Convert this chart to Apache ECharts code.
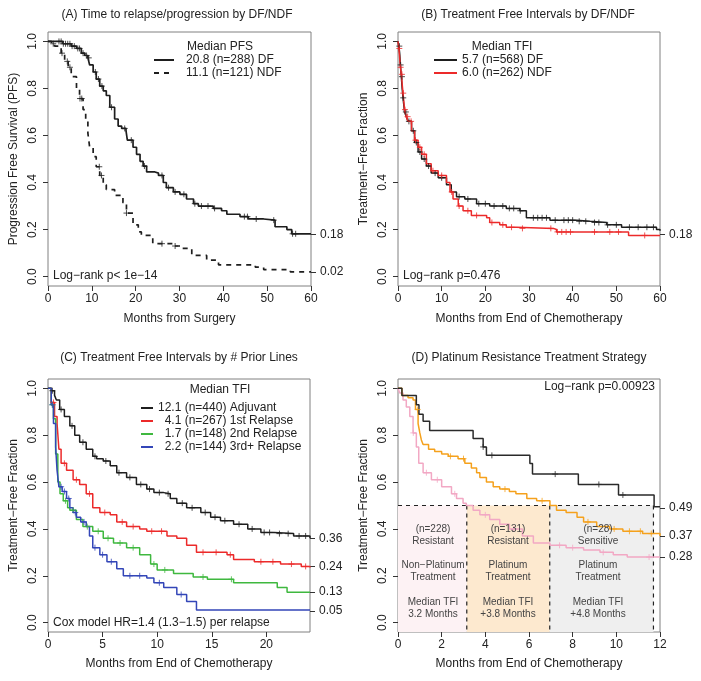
<!DOCTYPE html>
<html>
<head>
<meta charset="utf-8">
<script src="https://cdn.jsdelivr.net/npm/echarts@6/dist/echarts.min.js"></script>
<style>html,body{margin:0;padding:0;background:#fff}#c{width:701px;height:681px}</style>
</head>
<body>
<div id="c"></div>
<script>
// ---------- Panel A: PFS by DF/NDF ----------
const aDfTime = [0, 3.4, 5.3, 6.5, 7.6, 8.4, 9.1, 9.5, 10.3, 11, 11.8, 12.6, 13.3, 14.1, 15.2, 16, 16.8, 17.8, 18.1, 19.4, 20.2, 21, 21.7, 22.5, 24.4, 25.2, 26.3, 27, 28.6, 30.1, 31.6, 33.2, 34.3, 37.7, 39.6, 40.8, 43.8, 45.7, 49.2, 51.8, 54.5, 55.6, 60];
const aDfSurv = [1, 0.99, 0.98, 0.97, 0.95, 0.94, 0.93, 0.9, 0.87, 0.84, 0.81, 0.79, 0.77, 0.72, 0.67, 0.64, 0.63, 0.62, 0.58, 0.55, 0.52, 0.49, 0.47, 0.445, 0.44, 0.43, 0.4, 0.378, 0.36, 0.35, 0.33, 0.31, 0.3, 0.29, 0.28, 0.265, 0.255, 0.245, 0.24, 0.212, 0.2, 0.182, 0.182];
const aDfCens = [2.5, 3.0, 3.5, 4, 4.5, 5, 5.5, 6, 6.8, 7.2, 8, 8.8, 9.3, 10.8, 11.5, 12.3, 14.5, 17.5, 19, 22, 26, 27.5, 29, 31, 33.5, 35, 36.5, 38, 44.8, 45.5, 47.5, 51.5, 55.8, 56.5];
const aNdfTime = [0, 0.8, 1.5, 3.0, 3.8, 4.6, 5.3, 6.5, 7.2, 8, 8.6, 9.1, 9.5, 10.3, 11, 11.8, 12.6, 13.3, 15.2, 17.1, 17.9, 19.4, 20.6, 21.3, 23.9, 28.6, 30.5, 32.8, 36.2, 38.9, 47.3, 49.2, 55.3, 60];
const aNdfSurv = [1, 0.99, 0.98, 0.95, 0.915, 0.89, 0.85, 0.8, 0.757, 0.71, 0.66, 0.61, 0.55, 0.51, 0.467, 0.43, 0.39, 0.37, 0.345, 0.314, 0.27, 0.22, 0.19, 0.175, 0.14, 0.13, 0.12, 0.09, 0.07, 0.05, 0.04, 0.03, 0.02, 0.02];
const aNdfCens = [1.2, 3.2, 4.4, 5.0, 7.3, 7.7, 11.7, 12.2, 17.9, 26, 29];
const aNames = ['20.8 (n=288) DF', '11.1 (n=121) NDF'];
const aRightTicks = [0.18, 0.02];

// ---------- Panel B: TFI by DF/NDF ----------
const bDfTime = [0, 0.2, 0.38, 0.55, 0.76, 0.95, 1.15, 1.5, 1.9, 2.3, 3.1, 3.8, 4.6, 5.4, 6.5, 7.6, 9.2, 11.1, 12.2, 13.4, 15.3, 18, 21, 24.8, 27.9, 29.4, 34.8, 40.9, 44, 47.8, 51.2, 59.2, 60];
const bDfSurv = [1, 0.98, 0.95, 0.9, 0.85, 0.8, 0.76, 0.7, 0.68, 0.66, 0.62, 0.57, 0.53, 0.5, 0.47, 0.44, 0.42, 0.39, 0.36, 0.34, 0.33, 0.31, 0.3, 0.29, 0.28, 0.25, 0.24, 0.235, 0.23, 0.22, 0.21, 0.2, 0.195];
const bDfCens = [0.3, 0.6, 0.9, 1.2, 1.8, 2.5, 3.5, 4.2, 5, 6, 7, 8.5, 10, 14, 16, 18.5, 20, 22, 24, 25.5, 26.5, 28, 31, 32, 33, 34, 36, 38, 39, 40, 41.5, 43, 45, 46, 48, 50, 53, 55, 57, 58.5];
const bNdfTime = [0, 0.2, 0.38, 0.55, 0.76, 0.95, 1.15, 1.5, 1.9, 2.3, 3.1, 3.8, 4.6, 5.4, 6.5, 7.6, 9.2, 11.1, 11.9, 12.6, 13.8, 14.9, 16.8, 20.3, 21, 23.3, 24.8, 27.1, 35.6, 36.3, 47, 52.8, 60];
const bNdfSurv = [1, 0.97, 0.93, 0.89, 0.86, 0.82, 0.78, 0.71, 0.68, 0.66, 0.62, 0.58, 0.55, 0.52, 0.48, 0.45, 0.43, 0.4, 0.36, 0.33, 0.3, 0.28, 0.26, 0.25, 0.23, 0.22, 0.21, 0.205, 0.2, 0.19, 0.19, 0.175, 0.175];
const bNdfCens = [0.3, 0.6, 0.9, 1.2, 1.6, 2.2, 3, 4, 5, 6, 8, 10, 12.3, 14, 16, 18, 21.5, 24, 26, 28.5, 35, 36.5, 37.5, 38.5, 39.5, 45, 48.5, 50.5, 56.5];
const bNames = ['5.7 (n=568) DF', '6.0 (n=262) NDF'];
const bRightTicks = [0.18];

// ---------- Panel C: TFI by # prior lines ----------
const cAdjTime = [0, 0.3, 0.6, 0.77, 1.07, 1.5, 2.0, 2.45, 2.9, 3.5, 4.1, 4.45, 5.06, 5.7, 6.3, 7.2, 8.1, 9.05, 9.7, 10.6, 11.2, 11.8, 12.7, 14, 14.9, 15.8, 17, 18.3, 19.5, 20.7, 22.5, 24];
const cAdjSurv = [1, 0.99, 0.97, 0.95, 0.91, 0.88, 0.84, 0.8, 0.77, 0.74, 0.71, 0.7, 0.69, 0.67, 0.64, 0.62, 0.59, 0.57, 0.555, 0.55, 0.53, 0.51, 0.49, 0.47, 0.45, 0.435, 0.42, 0.4, 0.385, 0.38, 0.37, 0.36];
const cAdjCens = [0.4, 1.2, 2.2, 3.2, 4.3, 5.3, 6.5, 7.5, 8.5, 9.3, 10.2, 11, 12.3, 13.2, 14.4, 15.3, 16.2, 17.5, 18.7, 19.8, 20.3, 21.2, 22, 23, 23.6];
const c1stTime = [0, 0.3, 0.6, 0.83, 1.0, 1.2, 1.7, 2.3, 2.9, 3.5, 4.1, 4.75, 5.7, 6.3, 7.2, 8.4, 9.05, 10.9, 11.8, 12.7, 13.6, 16.4, 17, 18.9, 21.3, 23.2, 24];
const c1stSurv = [1, 0.94, 0.88, 0.85, 0.74, 0.68, 0.65, 0.61, 0.59, 0.55, 0.49, 0.47, 0.46, 0.43, 0.41, 0.4, 0.39, 0.37, 0.36, 0.33, 0.3, 0.29, 0.27, 0.26, 0.25, 0.24, 0.235];
const c1stCens = [0.5, 1.5, 2.6, 3.8, 5.2, 6.8, 7.8, 9.5, 10.4, 14.2, 15.4, 16.7, 19.5, 20.6, 22.3, 23.6];
const c2ndTime = [0, 0.3, 0.5, 0.7, 0.9, 1.1, 1.4, 1.8, 2.0, 2.6, 3.2, 4.1, 5.06, 6.0, 7.2, 8.4, 9.4, 10, 11.5, 13.3, 14.6, 17, 21, 21.9, 24];
const c2ndSurv = [1, 0.93, 0.87, 0.72, 0.6, 0.55, 0.52, 0.49, 0.48, 0.44, 0.41, 0.39, 0.36, 0.34, 0.32, 0.29, 0.25, 0.225, 0.21, 0.195, 0.185, 0.17, 0.15, 0.13, 0.13];
const c2ndCens = [0.4, 1.6, 2.3, 3.6, 4.6, 5.5, 6.6, 7.8, 9.7, 10.7, 14.2, 16.8];
const c3rdTime = [0, 0.3, 0.5, 0.7, 0.83, 1.0, 1.3, 1.7, 2.0, 2.3, 2.6, 3.0, 3.5, 3.8, 4.1, 4.75, 5.4, 6.3, 6.9, 9.05, 9.7, 10.6, 11.8, 12.7, 13.6, 24];
const c3rdSurv = [1, 0.93, 0.85, 0.75, 0.65, 0.58, 0.56, 0.53, 0.49, 0.47, 0.45, 0.43, 0.41, 0.37, 0.32, 0.29, 0.26, 0.23, 0.2, 0.19, 0.17, 0.15, 0.12, 0.09, 0.054, 0.054];
const c3rdCens = [0.4, 1.2, 1.5, 1.9, 2.5, 3.3, 4.3, 5.0, 5.8, 7.5, 8.4, 10.2, 12.2];
const cNames = ['12.1 (n=440) Adjuvant', '  4.1 (n=267) 1st Relapse', '  1.7 (n=148) 2nd Relapse', '  2.2 (n=144) 3rd+ Relapse'];
const cRightTicks = [0.36, 0.24, 0.13, 0.05];

// ---------- Panel D: platinum resistance treatment strategy ----------
const dSensTime = [0, 0.18, 0.84, 0.96, 1.15, 1.45, 3.44, 3.9, 4.05, 6.04, 6.16, 8.26, 10.1, 11.73, 12];
const dSensSurv = [1, 0.97, 0.93, 0.89, 0.86, 0.82, 0.786, 0.75, 0.714, 0.679, 0.634, 0.59, 0.545, 0.495, 0.495];
const dSensCens = [3.9, 4.3, 7.2, 9.2, 10.3];
const dPlatTime = [0, 0.18, 0.46, 0.69, 0.8, 0.92, 1.0, 1.07, 1.15, 1.4, 1.68, 2.0, 2.3, 2.75, 3.06, 3.36, 3.6, 3.75, 4.05, 4.36, 4.66, 5.1, 5.4, 5.9, 6.35, 6.96, 7.26, 7.7, 8.2, 8.5, 9.1, 9.7, 10.3, 11.2, 12];
const dPlatSurv = [1, 0.97, 0.96, 0.95, 0.91, 0.85, 0.81, 0.78, 0.76, 0.74, 0.73, 0.72, 0.71, 0.7, 0.68, 0.66, 0.64, 0.62, 0.6, 0.58, 0.57, 0.56, 0.55, 0.53, 0.52, 0.5, 0.48, 0.47, 0.45, 0.43, 0.41, 0.4, 0.39, 0.38, 0.37];
const dPlatCens = [0.9, 2.4, 3.0, 4.9, 6.6, 8.7, 9.9, 10.6, 11.1, 11.6];
const dResTime = [0, 0.08, 0.23, 0.38, 0.54, 0.69, 0.84, 0.95, 1.15, 1.53, 2.0, 2.45, 2.68, 2.98, 3.13, 3.44, 3.75, 4.2, 4.66, 5.1, 5.7, 6.2, 6.96, 7.7, 8.5, 9.25, 9.86, 10.5, 12];
const dResSurv = [1, 0.98, 0.95, 0.92, 0.88, 0.81, 0.75, 0.68, 0.64, 0.61, 0.58, 0.55, 0.53, 0.51, 0.5, 0.48, 0.46, 0.44, 0.42, 0.4, 0.37, 0.34, 0.33, 0.32, 0.31, 0.3, 0.29, 0.28, 0.28];
const dResCens = [0.7, 1.3, 1.8, 2.6, 4.0, 5.3, 7.4, 8.0, 9.4, 11.5];
const dBounds = [0, 3.15, 6.95, 11.7];
const dMedianLevel = 0.5;
const dRightTicks = [0.49, 0.37, 0.28];
const dGroupN = ['(n=228)', '(n=131)', '(n=28)'];
const dGroupType = ['Resistant', 'Resistant', 'Sensitive'];
const dGroupTreat = ['Non\u2212Platinum', 'Platinum', 'Platinum'];
const dGroupMedian = ['3.2 Months', '+3.8 Months', '+4.8 Months'];

// ---------- helpers ----------
const FONT = "'Liberation Sans', Arial, sans-serif";
const TXT = '#222';
const PLUS = 'path://M5,0V10M0,5H10';
function km(t, s) { return t.map((x, i) => [x, s[i]]); }
function survAt(t, s, x) { let v = s[0]; for (let i = 0; i < t.length; i++) { if (t[i] <= x) v = s[i]; } return v; }
function cens(t, s, c) { return c.map(x => [x, survAt(t, s, x)]); }

const grids = [
  {left: 48, top: 32, width: 263, height: 254},
  {left: 398, top: 32, width: 262, height: 254},
  {left: 48, top: 379, width: 262, height: 253},
  {left: 398, top: 379, width: 262, height: 253}
].map(g => Object.assign(g, {show: true, borderColor: '#808080', borderWidth: 1, backgroundColor: 'transparent'}));

const yTicks = [0, 0.2, 0.4, 0.6, 0.8, 1.0];
function xAx(gi, max, ticks, name, gap) {
  return {gridIndex: gi, type: 'value', min: 0, max: max, position: 'bottom',
    axisLine: {show: false, onZero: false}, splitLine: {show: false},
    axisTick: {show: true, length: 5, customValues: ticks, lineStyle: {color: '#333'}},
    axisLabel: {customValues: ticks, margin: 7, fontSize: 12, fontFamily: FONT, color: TXT},
    name: name, nameLocation: 'middle', nameGap: gap, nameTextStyle: {fontSize: 12, fontFamily: FONT, color: TXT}};
}
function yAx(gi, name) {
  return {gridIndex: gi, type: 'value', min: -0.04, max: 1.04, position: 'left',
    axisLine: {show: false, onZero: false}, splitLine: {show: false},
    axisTick: {show: true, length: 5, customValues: yTicks, lineStyle: {color: '#333'}},
    axisLabel: {customValues: yTicks, rotate: 90, margin: 9, fontSize: 12, fontFamily: FONT, color: TXT, formatter: v => v.toFixed(1)},
    name: name, nameLocation: 'middle', nameGap: 28, nameTextStyle: {fontSize: 12, fontFamily: FONT, color: TXT}};
}
function yRight(gi, ticks) {
  return {gridIndex: gi, type: 'value', min: -0.04, max: 1.04, position: 'right',
    axisLine: {show: false, onZero: false}, splitLine: {show: false},
    axisTick: {show: true, length: 5, customValues: ticks, lineStyle: {color: '#333'}},
    axisLabel: {customValues: ticks, margin: 9, fontSize: 12, fontFamily: FONT, color: TXT, formatter: v => v.toFixed(2)}};
}

const series = [];
function curve(name, xi, yi, t, s, c, color, width, dash) {
  series.push({name: name, type: 'line', xAxisIndex: xi, yAxisIndex: yi, step: 'end', symbol: 'none',
    data: km(t, s), lineStyle: {color: color, width: width, type: dash || 'solid'}, itemStyle: {color: color}, z: 3, silent: true});
  series.push({name: name + '_c', type: 'scatter', xAxisIndex: xi, yAxisIndex: yi, symbol: PLUS, symbolSize: 6,
    data: cens(t, s, c), itemStyle: {color: 'rgba(0,0,0,0)', borderColor: color, borderWidth: 1}, z: 4, silent: true});
}
const RED = '#ec2a2a', GREEN = '#3fb83f', BLUE = '#3346b8', BLACK = '#1e1e1e';
curve(aNames[0], 0, 0, aDfTime, aDfSurv, aDfCens, BLACK, 1.7);
curve(aNames[1], 0, 0, aNdfTime, aNdfSurv, aNdfCens, BLACK, 1.7, [5, 5]);
curve(bNames[0], 1, 2, bDfTime, bDfSurv, bDfCens, BLACK, 1.5);
curve(bNames[1], 1, 2, bNdfTime, bNdfSurv, bNdfCens, RED, 1.5);
curve(cNames[0], 2, 4, cAdjTime, cAdjSurv, cAdjCens, BLACK, 1.5);
curve(cNames[1], 2, 4, c1stTime, c1stSurv, c1stCens, RED, 1.5);
curve(cNames[2], 2, 4, c2ndTime, c2ndSurv, c2ndCens, GREEN, 1.5);
curve(cNames[3], 2, 4, c3rdTime, c3rdSurv, c3rdCens, BLUE, 1.5);

// panel D regions + dashed lines
const fills = ['#fdf2f4', '#fde9cf', '#efefef'];
const areas = [];
for (let i = 0; i < 3; i++) {
  areas.push([{xAxis: dBounds[i], yAxis: -0.04, itemStyle: {color: fills[i]}}, {xAxis: dBounds[i + 1], yAxis: dMedianLevel}]);
}
series.push({name: 'medianLine', type: 'line', xAxisIndex: 3, yAxisIndex: 6, symbol: 'none', silent: true,
  data: [[dBounds[0], dMedianLevel], [dBounds[3], dMedianLevel]], lineStyle: {color: '#222', width: 1.2, type: [4, 4]}, z: 2,
  markArea: {silent: true, data: areas, z: 0}});
for (let i = 1; i < 4; i++) {
  series.push({name: 'vline' + i, type: 'line', xAxisIndex: 3, yAxisIndex: 6, symbol: 'none', silent: true,
    data: [[dBounds[i], dMedianLevel], [dBounds[i], -0.04]], lineStyle: {color: '#222', width: 1.2, type: [4, 4]}, z: 2});
}
curve('Resistant non-platinum', 3, 6, dResTime, dResSurv, dResCens, '#f2a8c4', 1.5);
curve('Resistant platinum', 3, 6, dPlatTime, dPlatSurv, dPlatCens, '#f5a11c', 1.5);
curve('Sensitive platinum', 3, 6, dSensTime, dSensSurv, dSensCens, '#2a2a2a', 1.5);

function txt(x, y, s, opt) {
  opt = opt || {};
  return {type: 'text', x: x, y: y, silent: true, z: 10,
    style: {text: s, fontSize: opt.size || 12, fontFamily: FONT, fill: opt.color || TXT,
      align: opt.align || 'center', verticalAlign: 'middle', textAlign: opt.align || 'center', textVerticalAlign: 'middle'}};
}
const graphics = [
  txt(177, 15, '(A) Time to relapse/progression by DF/NDF'),
  txt(528, 15, '(B) Treatment Free Intervals by DF/NDF'),
  txt(179, 358, '(C) Treatment Free Intervals by # Prior Lines'),
  txt(529, 358, '(D) Platinum Resistance Treatment Strategy'),
  txt(220, 47, 'Median PFS'),
  txt(502, 47, 'Median TFI'),
  txt(220, 390, 'Median TFI'),
  txt(53, 276, 'Log\u2212rank p< 1e\u221214', {align: 'left'}),
  txt(403, 276, 'Log\u2212rank p=0.476', {align: 'left'}),
  txt(53, 623, 'Cox model HR=1.4 (1.3\u22121.5) per relapse', {align: 'left'}),
  txt(655, 387, 'Log\u2212rank p=0.00923', {align: 'right'})
];
const colX = [433, 508, 598];
for (let i = 0; i < 3; i++) {
  const o = {size: 10, color: '#444'};
  graphics.push(txt(colX[i], 529, dGroupN[i], o));
  graphics.push(txt(colX[i], 541, dGroupType[i], o));
  graphics.push(txt(colX[i], 565, dGroupTreat[i], o));
  graphics.push(txt(colX[i], 577, 'Treatment', o));
  graphics.push(txt(colX[i], 602, 'Median TFI', o));
  graphics.push(txt(colX[i], 614, dGroupMedian[i], o));
}

function leg(names, left, top, w, pad) {
  return {data: names, left: left, top: top, orient: 'vertical', padding: 0, itemGap: 1, itemWidth: w, itemHeight: 14,
    selectedMode: false, itemStyle: {opacity: 0, borderWidth: 0},
    textStyle: {fontSize: 12, fontFamily: FONT, color: TXT, padding: [0, 0, 0, pad]}};
}

const option = {
  animation: false,
  backgroundColor: '#fff',
  grid: grids,
  xAxis: [
    xAx(0, 60, [0, 10, 20, 30, 40, 50, 60], 'Months from Surgery', 27),
    xAx(1, 60, [0, 10, 20, 30, 40, 50, 60], 'Months from End of Chemotherapy', 27),
    xAx(2, 24, [0, 5, 10, 15, 20], 'Months from End of Chemotherapy', 26),
    xAx(3, 12, [0, 2, 4, 6, 8, 10, 12], 'Months from End of Chemotherapy', 26)
  ],
  yAxis: [
    yAx(0, 'Progression Free Survival (PFS)'), yRight(0, aRightTicks),
    yAx(1, 'Treatment\u2212Free Fraction'), yRight(1, bRightTicks),
    yAx(2, 'Treatment\u2212Free Fraction'), yRight(2, cRightTicks),
    yAx(3, 'Treatment\u2212Free Fraction'), yRight(3, dRightTicks)
  ],
  legend: [
    leg(aNames, 153, 54, 20, 7),
    leg(bNames, 433, 54, 23, 0),
    leg(cNames, 140, 402, 12, 0)
  ],
  graphic: graphics,
  series: series
};
const chart = echarts.init(document.getElementById('c'), null, {renderer: 'canvas'});
chart.setOption(option);
</script>
</body>
</html>
